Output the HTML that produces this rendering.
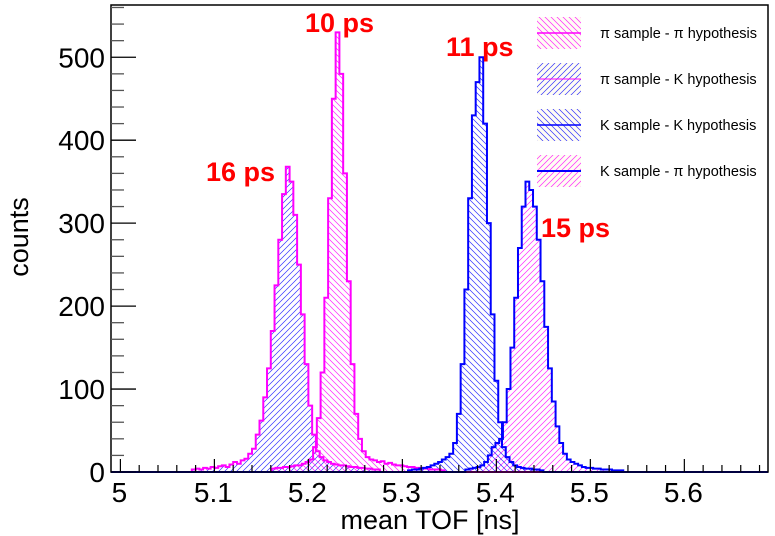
<!DOCTYPE html>
<html><head><meta charset="utf-8">
<style>
html,body{margin:0;padding:0;background:#fff;}
svg{display:block;font-family:"Liberation Sans",sans-serif;}
</style></head>
<body>
<svg id="chart" width="775" height="536" viewBox="0 0 775 536" xmlns="http://www.w3.org/2000/svg">
<defs>
  <pattern id="hatchMagBack" patternUnits="userSpaceOnUse" width="6" height="6">
    <path d="M-1,-1 L7,7 M-1,5 L1,7 M5,-1 L7,1" stroke="#ff00ff" stroke-width="0.7" stroke-opacity="0.85"/>
  </pattern>
  <pattern id="hatchMagFwd" patternUnits="userSpaceOnUse" width="6" height="6">
    <path d="M-1,7 L7,-1 M-1,1 L1,-1 M5,7 L7,5" stroke="#ff00ff" stroke-width="0.7" stroke-opacity="0.85"/>
  </pattern>
  <pattern id="hatchBlueBack" patternUnits="userSpaceOnUse" width="6" height="6">
    <path d="M-1,-1 L7,7 M-1,5 L1,7 M5,-1 L7,1" stroke="#0000ff" stroke-width="0.7" stroke-opacity="0.8"/>
  </pattern>
  <pattern id="hatchBlueFwd" patternUnits="userSpaceOnUse" width="6" height="6">
    <path d="M-1,7 L7,-1 M-1,1 L1,-1 M5,7 L7,5" stroke="#0000ff" stroke-width="0.7" stroke-opacity="0.8"/>
  </pattern>
  <clipPath id="plotClip"><rect x="111" y="5" width="657" height="468"/></clipPath>
</defs>
<g id="hists" clip-path="url(#plotClip)"></g>
<g id="axes"></g>
<g id="legend"></g>
<text x="206" y="181" fill="#ff0000" font-size="27" font-weight="bold">16 ps</text>
<text x="305" y="32" fill="#ff0000" font-size="27" font-weight="bold">10 ps</text>
<text x="446" y="56" fill="#ff0000" font-size="27" font-weight="bold">11 ps</text>
<text x="541" y="237" fill="#ff0000" font-size="27" font-weight="bold">15 ps</text>
<text x="430" y="529" text-anchor="middle" font-size="27">mean TOF [ns]</text>
<text transform="translate(28,237) rotate(-90)" text-anchor="middle" font-size="27">counts</text>
</svg>
<script>
// ---- data ----
const binWidth = 0.004;
const piKStart = 5.076;
const piKValues = [3,4,3,5,4,6,5,7,8,6,9,12,10,14,16,22,28,45,62,90,125,170,225,280,335,368,350,310,250,190,130,80,45,25,18,14,12,10,9,8,8,7,6,6,5,5,4,4,3,3];
const piPiStart = 5.161;
const piPiValues = [4,5,5,6,6,7,8,8,10,12,15,30,65,120,210,330,450,530,480,360,230,130,70,40,25,18,15,14,12,13,10,11,9,8,8,7,6,6,5,5,4,4,3,3,3,2];
const KKStart = 5.306;
const KKValues = [2,3,3,4,5,6,8,10,12,15,18,22,35,70,130,220,330,430,470,500,420,300,190,110,60,30,18,12,8,6,5,4,4,3,3,2];
const KPiStart = 5.367;
const KPiValues = [3,4,5,6,8,12,20,30,35,40,60,100,150,210,270,320,350,340,320,280,230,175,125,85,55,35,22,15,12,10,8,6,5,5,4,4,3,3,3,2,2,2];
const xTicks = [5.0,5.1,5.2,5.3,5.4,5.5,5.6];
const xTickLabels = ["5","5.1","5.2","5.3","5.4","5.5","5.6"];
const yTicks = [0,100,200,300,400,500];
const yTickLabels = ["0","100","200","300","400","500"];
const xMin = 4.990, xMax = 5.689, yMin = 0, yMax = 563;

// ---- scales ----
const L=111,R=768,T=5,B=472;
function xs(v){return L+(v-xMin)/(xMax-xMin)*(R-L);}
function ys(v){return B-(v-yMin)/(yMax-yMin)*(B-T);}
const NS="http://www.w3.org/2000/svg";
function mk(tag,attrs,parent){const e=document.createElementNS(NS,tag);for(const k in attrs)e.setAttribute(k,attrs[k]);parent.appendChild(e);return e;}

function stepPath(start,vals,closed){
  let d="M"+xs(xMin-0.01)+","+ys(0)+" L"+xs(start)+","+ys(0);
  for(let i=0;i<vals.length;i++){
    const x0=xs(start+i*binWidth),x1=xs(start+(i+1)*binWidth),y=ys(vals[i]);
    d+=" L"+x0+","+y+" L"+x1+","+y;
  }
  const end=start+vals.length*binWidth;
  d+=" L"+xs(end)+","+ys(0)+" L"+xs(xMax+0.01)+","+ys(0);
  if(closed)d+=" Z";
  return d;
}
const hists=document.getElementById("hists");
const series=[
  {name:"hist-pi-sample-k-hyp",start:piKStart,vals:piKValues,fill:"url(#hatchBlueFwd)",stroke:"#ff00ff"},
  {name:"hist-pi-sample-pi-hyp",start:piPiStart,vals:piPiValues,fill:"url(#hatchMagBack)",stroke:"#ff00ff"},
  {name:"hist-k-sample-pi-hyp",start:KPiStart,vals:KPiValues,fill:"url(#hatchMagFwd)",stroke:"#0000ff"},
  {name:"hist-k-sample-k-hyp",start:KKStart,vals:KKValues,fill:"url(#hatchBlueBack)",stroke:"#0000ff"}
];
series.forEach(s=>{
  const f=mk("path",{d:stepPath(s.start,s.vals,true),fill:s.fill,stroke:"none"},hists);
  
  
});
series.forEach(s=>{
  const p=mk("path",{d:stepPath(s.start,s.vals,false),fill:"none",stroke:s.stroke,"stroke-width":2},hists);
  
  
});

// ---- axes ----
const ax=document.getElementById("axes");
const frame=mk("rect",{x:L,y:T,width:R-L,height:B-T,fill:"none",stroke:"#000","stroke-width":1.5},ax);


for(let v=0;v<=560;v+=20){
  const major=v%100===0;
  const t=mk("line",{x1:L,x2:L+(major?25:13),y1:ys(v),y2:ys(v),stroke:major?"#000":"#555","stroke-width":1.3},ax);
  
  
}
yTicks.forEach((v,i)=>{
  const t=mk("text",{x:105,y:ys(v)+10,"text-anchor":"end","font-size":28},ax);
  t.textContent=yTickLabels[i];
  
  
});
for(let k=0;k<=34;k++){
  const v=5.0+k*0.02;
  if(v>xMax)break;
  const major=k%5===0;
  const t=mk("line",{x1:xs(v),x2:xs(v),y1:B,y2:B-(major?13:7),stroke:"#000","stroke-width":1.2},ax);
  
  
}
xTicks.forEach((v,i)=>{
  const t=mk("text",{x:xs(v)-1,y:502,"text-anchor":"middle","font-size":28},ax);
  t.textContent=xTickLabels[i];
  
  
});

// ---- legend ----
const lg=document.getElementById("legend");
const entries=[
  {label:"\u03c0 sample - \u03c0 hypothesis",fill:"url(#hatchMagBack)",line:"#ff00ff",w:1.5},
  {label:"\u03c0 sample - K hypothesis",fill:"url(#hatchBlueFwd)",line:"#ff00ff",w:1},
  {label:"K sample - K hypothesis",fill:"url(#hatchBlueBack)",line:"#0000ff",w:1.5},
  {label:"K sample - \u03c0 hypothesis",fill:"url(#hatchMagFwd)",line:"#0000ff",w:2}
];
entries.forEach((e,i)=>{
  const cy=33+i*46;
  const g=mk("g",{},lg);
  
  
  mk("rect",{x:537,y:cy-16,width:44,height:32,fill:"#fffdf4"},g);
  mk("rect",{x:537,y:cy-16,width:44,height:32,fill:e.fill},g);
  mk("line",{x1:537,x2:581,y1:cy,y2:cy,stroke:e.line,"stroke-width":e.w},g);
  const t=mk("text",{x:600,y:cy+5,"font-size":14.5},g);
  t.textContent=e.label;
});
</script>
</body></html>
